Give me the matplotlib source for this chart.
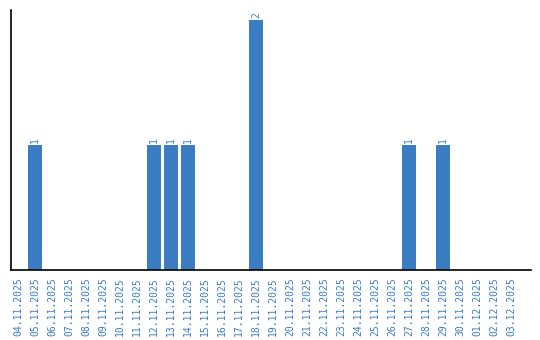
import matplotlib
matplotlib.use("Agg")
import matplotlib.pyplot as plt
import numpy as np

dates = ["04.11.2025", "05.11.2025", "06.11.2025", "07.11.2025", "08.11.2025",
         "09.11.2025", "10.11.2025", "11.11.2025", "12.11.2025", "13.11.2025",
         "14.11.2025", "15.11.2025", "16.11.2025", "17.11.2025", "18.11.2025",
         "19.11.2025", "20.11.2025", "21.11.2025", "22.11.2025", "23.11.2025",
         "24.11.2025", "25.11.2025", "26.11.2025", "27.11.2025", "28.11.2025",
         "29.11.2025", "30.11.2025", "01.12.2025", "02.12.2025", "03.12.2025"]
values = [0, 1, 0, 0, 0, 0, 0, 0, 1, 1,
          1, 0, 0, 0, 2, 0, 0, 0, 0, 0,
          0, 0, 0, 1, 0, 1, 0, 0, 0, 0]

bar_color = "#3b7dc2"
text_color = "#3a7dc4"
mono = "DejaVu Sans Mono"

fig = plt.figure(figsize=(5.4, 3.4), dpi=100)
ax = fig.add_axes([11/540, 70/340, 519.5/540, 260/340])
x = np.arange(len(dates))
ax.bar(x, values, width=0.82, color=bar_color)
for xi, v in zip(x, values):
    if v > 0:
        ax.text(xi, v + 0.015, str(v), rotation=90, ha="center", va="bottom",
                fontsize=7, color=text_color, family=mono)
ax.set_xlim(-0.41, 30.15)
ax.set_ylim(0, 2.08)
ax.set_xticks(x)
ax.set_xticklabels(dates, rotation=90, fontsize=7, color=text_color, family=mono)
ax.tick_params(axis="x", length=0, pad=5)
ax.set_yticks([])
ax.spines["top"].set_visible(False)
ax.spines["right"].set_visible(False)
ax.spines["left"].set_linewidth(1.2)
ax.spines["bottom"].set_linewidth(1.2)
fig.savefig("out.png", dpi=100)
